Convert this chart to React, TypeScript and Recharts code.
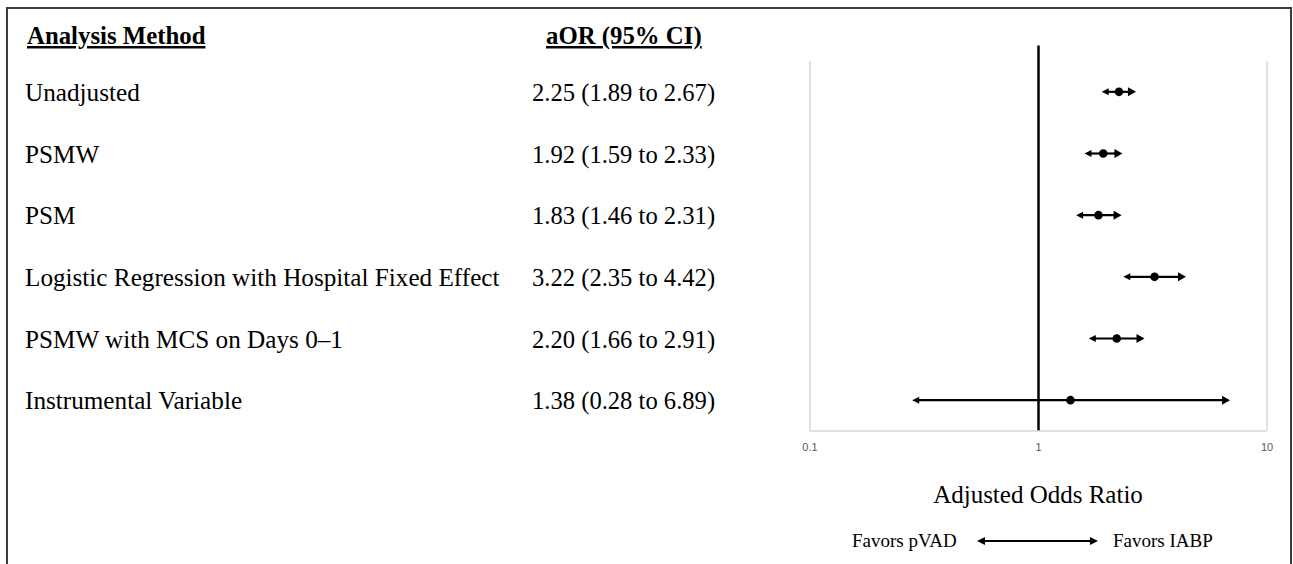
import React from 'react';
import { ScatterChart, Scatter, XAxis, YAxis, ReferenceLine } from 'recharts';

const methods = [
  'Unadjusted',
  'PSMW',
  'PSM',
  'Logistic Regression with Hospital Fixed Effect',
  'PSMW with MCS on Days 0–1',
  'Instrumental Variable',
];
const oddsRatios = [2.25, 1.92, 1.83, 3.22, 2.2, 1.38];
const lowerCI = [1.89, 1.59, 1.46, 2.35, 1.66, 0.28];
const upperCI = [2.67, 2.33, 2.31, 4.42, 2.91, 6.89];
const xTicks = [0.1, 1, 10];
const xTickLabels = ['0.1', '1', '10'];
const headerMethod = 'Analysis Method';
const headerOR = 'aOR (95% CI)';
const axisTitle = 'Adjusted Odds Ratio';
const favorsLeft = 'Favors pVAD';
const favorsRight = 'Favors IABP';

const rowPos = methods.map((_, i) => i + 0.5);
const points = methods.map((m, i) => ({ name: m, or: oddsRatios[i], y: rowPos[i] }));
const fmt = (v: number) => v.toFixed(2);

const SERIF = "'Liberation Serif', 'Times New Roman', serif";
const W = 1293;
const H = 564;

const RowTick = (props: any) => {
  const { y, payload } = props;
  const i = Math.round(payload.value - 0.5);
  if (i < 0 || i >= methods.length) return null;
  return (
    <g>
      <text x={25} y={y + 9} fontFamily={SERIF} fontSize={25.2} fill="#000">
        {methods[i]}
      </text>
      <text x={532} y={y + 9} fontFamily={SERIF} fontSize={24.6} fill="#000">
        {`${fmt(oddsRatios[i])} (${fmt(lowerCI[i])} to ${fmt(upperCI[i])})`}
      </text>
    </g>
  );
};

const XTick = (props: any) => {
  const { x, y, payload } = props;
  const idx = xTicks.indexOf(payload.value);
  return (
    <text
      x={x}
      y={y + 12}
      textAnchor="middle"
      fontSize={11}
      fill="#595959"
      fontFamily="'Liberation Sans', Arial, sans-serif"
    >
      {idx >= 0 ? xTickLabels[idx] : String(payload.value)}
    </text>
  );
};

const CIShape = (props: any) => {
  const { x1, y1, x2 } = props;
  const y = y1;
  const a = Math.min(x1, x2);
  const b = Math.max(x1, x2);
  return (
    <g>
      <line x1={a + 5} y1={y} x2={b - 6} y2={y} stroke="#000" strokeWidth={2.2} />
      <polygon points={`${a},${y} ${a + 7},${y - 3.5} ${a + 7},${y + 3.5}`} fill="#000" />
      <polygon points={`${b},${y} ${b - 8},${y - 4.5} ${b - 8},${y + 4.5}`} fill="#000" />
    </g>
  );
};

const Dot = (props: any) => <circle cx={props.cx} cy={props.cy} r={4.3} fill="#000" />;

export default function App() {
  return (
    <div style={{ position: 'absolute', left: 0, top: 0, width: W, height: H, background: '#fff', overflow: 'hidden' }}>
      <div
        style={{
          position: 'absolute',
          left: 6,
          top: 7,
          width: 1286,
          height: 560,
          boxSizing: 'border-box',
          borderLeft: '2px solid #3a3a3a',
          borderTop: '2px solid #3a3a3a',
          borderRight: '2px solid #3a3a3a',
        }}
      />
      <div style={{ position: 'absolute', left: 0, top: 0 }}>
        <ScatterChart width={W} height={H} margin={{ top: 61, right: 26, bottom: 103, left: 10 }}>
          <XAxis
            type="number"
            dataKey="or"
            scale="log"
            domain={[0.1, 10]}
            ticks={xTicks}
            allowDataOverflow
            height={30}
            interval={0}
            tickLine={false}
            axisLine={{ stroke: '#d9d9d9', strokeWidth: 1.5 }}
            tick={<XTick />}
          />
          <YAxis
            type="number"
            dataKey="y"
            domain={[0, 6]}
            reversed
            ticks={rowPos}
            interval={0}
            width={800}
            tickLine={false}
            axisLine={{ stroke: '#d9d9d9', strokeWidth: 1.5 }}
            tick={<RowTick />}
          />
          <ReferenceLine x={10} stroke="#d9d9d9" strokeWidth={1.5} ifOverflow="visible" />
          <ReferenceLine
            segment={[{ x: 1, y: -0.25 }, { x: 1, y: 6 }]}
            stroke="#000"
            strokeWidth={2.5}
            ifOverflow="visible"
          />
          {methods.map((m, i) => (
            <ReferenceLine
              key={m}
              segment={[{ x: lowerCI[i], y: rowPos[i] }, { x: upperCI[i], y: rowPos[i] }]}
              ifOverflow="visible"
              shape={<CIShape />}
            />
          ))}
          <Scatter data={points} isAnimationActive={false} shape={<Dot />} />
        </ScatterChart>
      </div>
      <svg width={W} height={H} style={{ position: 'absolute', left: 0, top: 0, pointerEvents: 'none' }}>
        <text x={27} y={44} fontFamily={SERIF} fontSize={24.8} fontWeight="bold" textDecoration="underline" fill="#000">
          {headerMethod}
        </text>
        <text x={546} y={44} fontFamily={SERIF} fontSize={24.8} fontWeight="bold" textDecoration="underline" fill="#000">
          {headerOR}
        </text>
        <text x={1038} y={503} textAnchor="middle" fontFamily={SERIF} fontSize={25} fill="#000">
          {axisTitle}
        </text>
        <text x={852} y={547} fontFamily={SERIF} fontSize={19} fill="#000">
          {favorsLeft}
        </text>
        <text x={1113} y={547} fontFamily={SERIF} fontSize={19} fill="#000">
          {favorsRight}
        </text>
        <g>
          <line x1={983} y1={541} x2={1092} y2={541} stroke="#000" strokeWidth={1.8} />
          <polygon points="977,541 985,537 985,545" fill="#000" />
          <polygon points="1098,541 1090,537 1090,545" fill="#000" />
        </g>
      </svg>
    </div>
  );
}
